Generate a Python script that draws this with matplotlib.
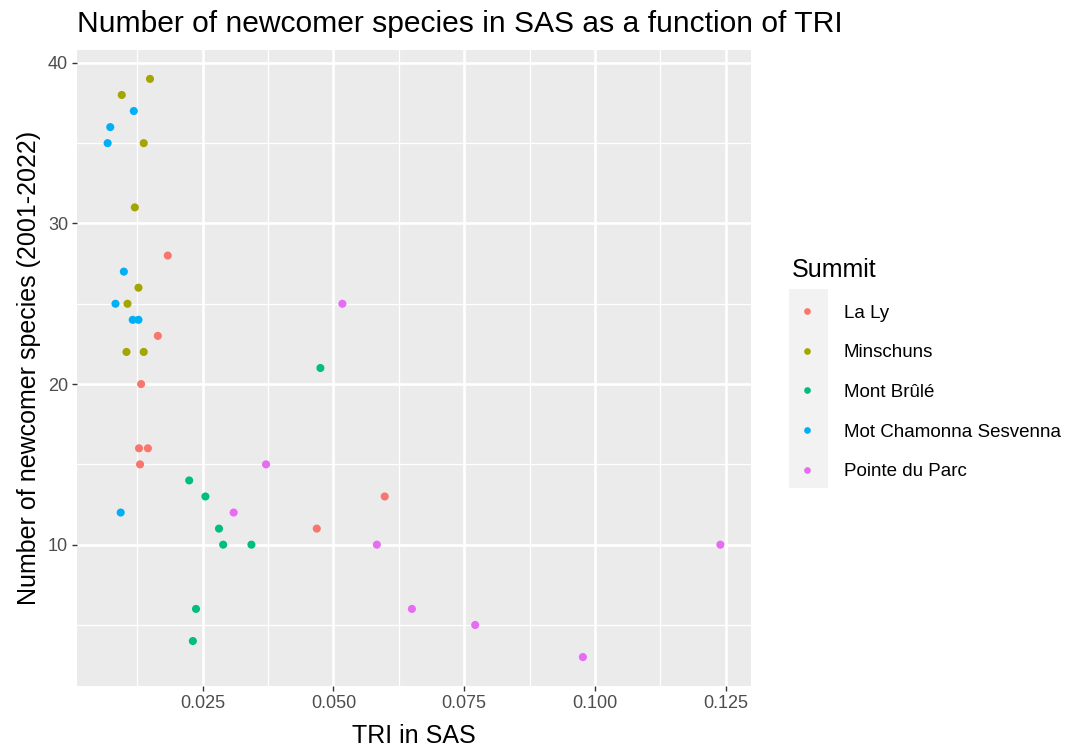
import matplotlib
matplotlib.use("Agg")
import matplotlib.pyplot as plt
from matplotlib.lines import Line2D
from matplotlib.patches import Rectangle
import numpy as np

plt.rcParams['font.family'] = ['Liberation Sans', 'DejaVu Sans']

summits = ["La Ly", "Minschuns", "Mont Brûlé", "Mot Chamonna Sesvenna", "Pointe du Parc"]
colors = ["#F8766D", "#A3A500", "#00BF7D", "#00B0F6", "#E76BF3"]

la_ly_tri = [0.0183, 0.0164, 0.0132, 0.0128, 0.0145, 0.0130, 0.0468, 0.0598]
la_ly_n = [28, 23, 20, 16, 16, 15, 11, 13]
minschuns_tri = [0.0149, 0.0095, 0.0137, 0.0120, 0.0127, 0.0106, 0.0104, 0.0137]
minschuns_n = [39, 38, 35, 31, 26, 25, 22, 22]
mont_brule_tri = [0.0475, 0.0224, 0.0255, 0.0281, 0.0289, 0.0343, 0.0237, 0.0231]
mont_brule_n = [21, 14, 13, 11, 10, 10, 6, 4]
mot_chamonna_tri = [0.0118, 0.0073, 0.0068, 0.0099, 0.0083, 0.0116, 0.0127, 0.0093]
mot_chamonna_n = [37, 36, 35, 27, 25, 24, 24, 12]
pointe_tri = [0.0517, 0.0371, 0.0309, 0.0583, 0.1240, 0.0650, 0.0771, 0.0977]
pointe_n = [25, 15, 12, 10, 10, 6, 5, 3]

series_x = [la_ly_tri, minschuns_tri, mont_brule_tri, mot_chamonna_tri, pointe_tri]
series_y = [la_ly_n, minschuns_n, mont_brule_n, mot_chamonna_n, pointe_n]

x_ticks = [0.025, 0.050, 0.075, 0.100, 0.125]
x_tick_labels = ["0.025", "0.050", "0.075", "0.100", "0.125"]
y_ticks = [10, 20, 30, 40]
y_tick_labels = ["10", "20", "30", "40"]

W, H = 1070, 747
fig = plt.figure(figsize=(W / 100, H / 100), dpi=100)
ax = fig.add_axes([77/W, 1-686/H, (751-77)/W, (686-50)/H])
ax.set_facecolor("#EBEBEB")
for s in ax.spines.values():
    s.set_visible(False)

for xs, ys, c in zip(series_x, series_y, colors):
    ax.scatter(xs, ys, s=34, color=c, edgecolors='none', zorder=3)

allx = np.concatenate([np.array(v) for v in series_x])
ally = np.concatenate([np.array(v) for v in series_y])
dx = (allx.max() - allx.min()) * 0.05
dy = (ally.max() - ally.min()) * 0.05
ax.set_xlim(allx.min() - dx, allx.max() + dx)
ax.set_ylim(ally.min() - dy, ally.max() + dy)

ax.set_xticks(x_ticks)
ax.set_xticklabels(x_tick_labels)
ax.set_yticks(y_ticks)
ax.set_yticklabels(y_tick_labels)
ax.set_xticks([0.0125, 0.0375, 0.0625, 0.0875, 0.1125], minor=True)
ax.set_yticks([5, 15, 25, 35], minor=True)
ax.grid(which='major', color='white', linewidth=1.9, zorder=1)
ax.grid(which='minor', color='white', linewidth=0.9, zorder=1)
ax.set_axisbelow(True)
ax.tick_params(which='major', length=3.5, width=1.0, color='#333333',
               labelcolor='#4D4D4D', labelsize=13, pad=3)
ax.tick_params(which='minor', length=0)

fig.text(414/W, 1-743/H, "TRI in SAS", fontsize=18, color='black',
         ha='center', va='baseline')
fig.text(17/W, 1-368/H, "Number of newcomer species (2001-2022)", fontsize=18,
         color='black', rotation=90, ha='left', va='center')
fig.text(77/W, 1-32/H, "Number of newcomer species in SAS as a function of TRI",
         fontsize=21.6, color='black', ha='left', va='baseline')

# legend
fig.patches.append(Rectangle((789/W, 1-488/H), 39/W, 199/H,
                             transform=fig.transFigure, facecolor='#F2F2F2',
                             edgecolor='none', zorder=0))
handles = [Line2D([0], [0], marker='o', linestyle='none', markersize=4.8,
                  markerfacecolor=c, markeredgecolor='none') for c in colors]
leg = fig.legend(handles, summits, title="Summit", loc='upper left',
                 bbox_to_anchor=(777/W, 1-243/H), frameon=False,
                 fontsize=13.5, title_fontsize=18, labelspacing=1.2,
                 handletextpad=1.15, handlelength=1.6, borderpad=0.3)
leg._legend_box.align = "left"

fig.savefig("out.png", dpi=100)
